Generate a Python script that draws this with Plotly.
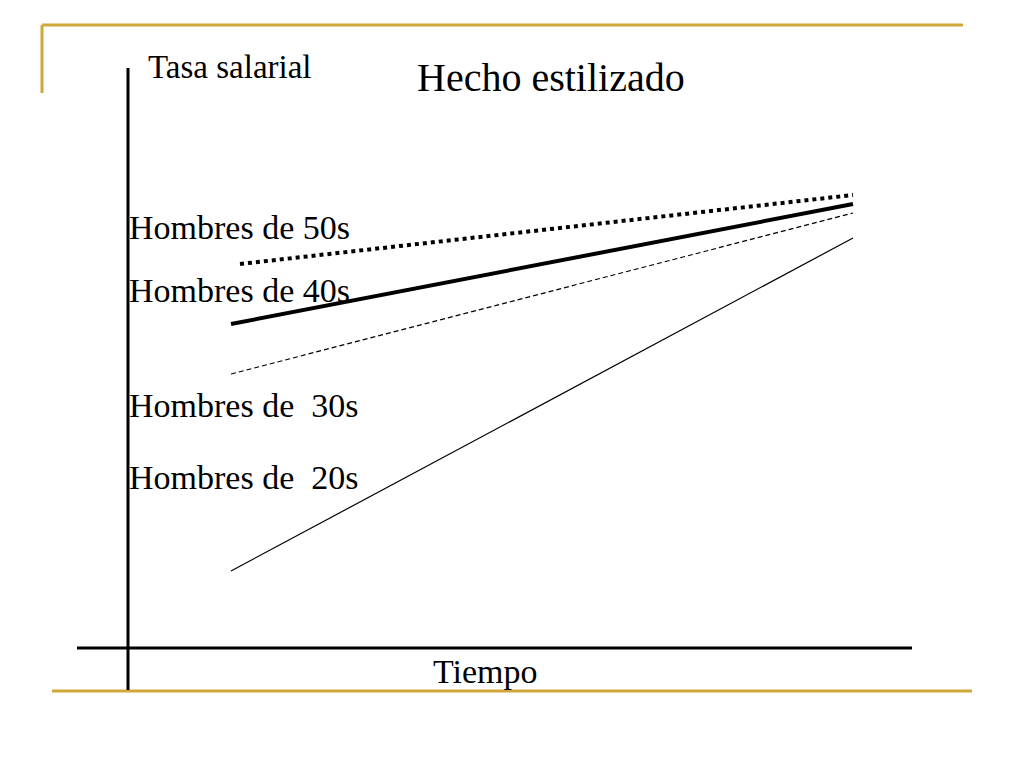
import plotly.graph_objects as go

# --- data (slide coordinates, y grows downward) ---
series = ['Hombres de 50s', 'Hombres de 40s', 'Hombres de  30s', 'Hombres de  20s']
x_start = [240, 231, 231, 231]
x_end = [853, 853, 853, 853]
y_start = [264, 324, 374, 571]
y_end = [195, 204, 213, 238]
label_y = [227, 290, 405, 477]

styles = [
    dict(width=4, dash='dot'),
    dict(width=4, dash='solid'),
    dict(width=1.2, dash='5px,3px'),
    dict(width=1.2, dash='solid'),
]

GOLD = '#D1A73A'
FONT = 'Liberation Serif, Times New Roman, serif'
OFF = 8  # page body margin

fig = go.Figure()

for i, name in enumerate(series):
    fig.add_trace(go.Scatter(
        x=[x_start[i], x_end[i]],
        y=[y_start[i], y_end[i]],
        mode='lines',
        name=name,
        line=dict(color='black', **styles[i]),
        showlegend=False,
        hoverinfo='skip'
    ))
    fig.add_annotation(
        x=127, y=label_y[i], text=name, showarrow=False,
        xanchor='left', yanchor='middle',
        font=dict(family=FONT, size=34, color='black')
    )

# gold frame lines
fig.add_shape(type='line', x0=42, x1=963, y0=25, y1=25, line=dict(color=GOLD, width=3))
fig.add_shape(type='line', x0=42, x1=42, y0=25, y1=93, line=dict(color=GOLD, width=3))
fig.add_shape(type='line', x0=52, x1=972, y0=691, y1=691, line=dict(color=GOLD, width=3))

# black axes
fig.add_shape(type='line', x0=128, x1=128, y0=68, y1=690, line=dict(color='black', width=3))
fig.add_shape(type='line', x0=77, x1=912, y0=648, y1=648, line=dict(color='black', width=3))

fig.add_annotation(x=146, y=67, text='Tasa salarial', showarrow=False, xanchor='left',
                   yanchor='middle', font=dict(family=FONT, size=33, color='black'))
fig.add_annotation(x=551, y=77, text='Hecho estilizado', showarrow=False, xanchor='center',
                   yanchor='middle', font=dict(family=FONT, size=40, color='black'))
fig.add_annotation(x=485, y=671, text='Tiempo', showarrow=False, xanchor='center',
                   yanchor='middle', font=dict(family=FONT, size=34, color='black'))

fig.update_layout(
    width=1024, height=768,
    margin=dict(l=0, r=0, t=0, b=0),
    paper_bgcolor='white', plot_bgcolor='white',
    xaxis=dict(range=[OFF, 1024 + OFF], visible=False, fixedrange=True),
    yaxis=dict(range=[768 + OFF, OFF], visible=False, fixedrange=True),
)

fig.write_html('out.html')
